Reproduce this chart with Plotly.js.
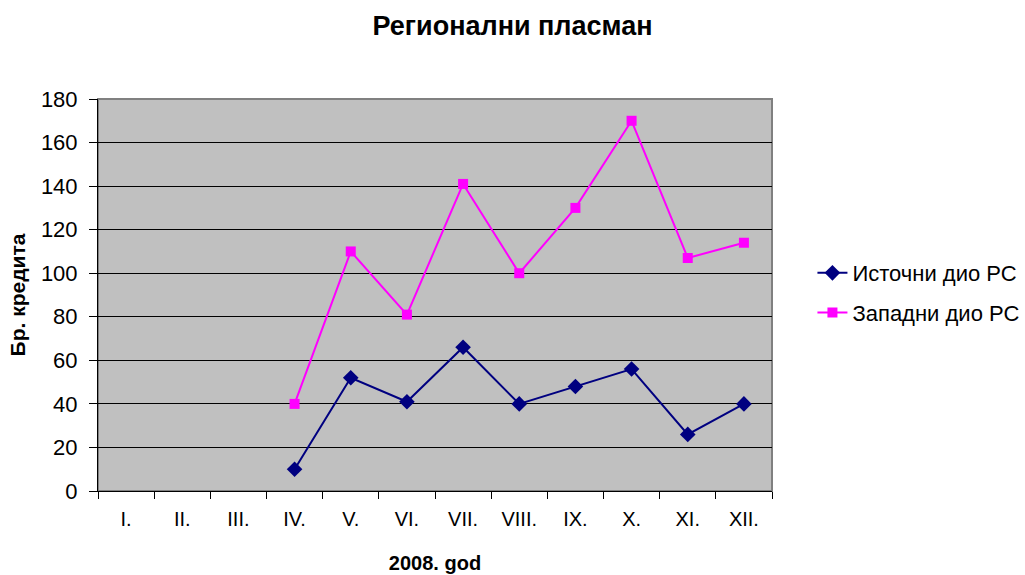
<!DOCTYPE html>
<html>
<head>
<meta charset="utf-8">
<script src="https://cdn.plot.ly/plotly-3.0.1.min.js"></script>
<style>html,body{margin:0;padding:0;background:#fff;}#chart{width:1025px;height:575px;}</style>
</head>
<body>
<div id="chart"></div>
<script>
const months = ["I.", "II.", "III.", "IV.", "V.", "VI.", "VII.", "VIII.", "IX.", "X.", "XI.", "XII."];
const istocni = [null, null, null, 10, 52, 41, 66, 40, 48, 56, 26, 40];
const zapadni = [null, null, null, 40, 110, 81, 141, 100, 130, 170, 107, 114];
const seriesNames = ["Источни дио РС", "Западни дио РС"];

const font = "Arial, 'Liberation Sans', sans-serif";

const traces = [
  {
    x: months, y: istocni, name: seriesNames[0], type: "scatter", mode: "lines+markers",
    legendgroup: "a",
    line: {color: "#000080", width: 2},
    marker: {symbol: "diamond", color: "#000080", size: 12}
  },
  {
    x: months, y: zapadni, name: seriesNames[1], type: "scatter", mode: "lines+markers",
    legendgroup: "b",
    line: {color: "#ff00ff", width: 2},
    marker: {symbol: "square", color: "#ff00ff", size: 10}
  }
];

const layout = {
  width: 1025, height: 575,
  paper_bgcolor: "#ffffff",
  plot_bgcolor: "#c0c0c0",
  margin: {l: 98, r: 253, t: 99, b: 84, autoexpand: false},
  title: {text: "<b>Регионални пласман</b>", font: {family: font, size: 27, color: "#000"}, x: 0.5, xanchor: "center", y: 0.955, yanchor: "middle"},
  font: {family: font, color: "#000"},
  showlegend: true,
  legend: {x: 1.06, xanchor: "left", y: 0.505, yanchor: "middle", font: {family: font, size: 22, color: "#000"}, bgcolor: "rgba(0,0,0,0)", tracegroupgap: 8},
  xaxis: {
    type: "category", categoryorder: "array", categoryarray: months,
    range: [-0.5, 11.5],
    showgrid: false, zeroline: false,
    showline: true, linecolor: "#000", linewidth: 1,
    ticks: "outside", tickson: "boundaries", ticklen: 7, tickcolor: "#000",
    ticklabelstandoff: 10,
    tickfont: {family: font, size: 20, color: "#000"},
    title: {text: "<b>2008. god</b>", font: {family: font, size: 20, color: "#000"}, standoff: 26}
  },
  yaxis: {
    range: [0, 180], dtick: 20, tick0: 0,
    showgrid: true, gridcolor: "#000", gridwidth: 1,
    zeroline: false,
    showline: true, linecolor: "#000", linewidth: 1,
    ticks: "outside", ticklen: 8, tickcolor: "#000",
    ticklabelstandoff: 7,
    tickfont: {family: font, size: 22, color: "#000"},
    title: {text: "<b>Бр. кредита</b>", font: {family: font, size: 21, color: "#000"}, standoff: 9}
  },
  shapes: [
    {type: "rect", xref: "paper", yref: "paper", x0: 0, x1: 1, y0: 0, y1: 1, line: {color: "#808080", width: 2}, fillcolor: "rgba(0,0,0,0)", layer: "below"}
  ]
};

Plotly.newPlot("chart", traces, layout, {displayModeBar: false, staticPlot: true});
</script>
</body>
</html>
